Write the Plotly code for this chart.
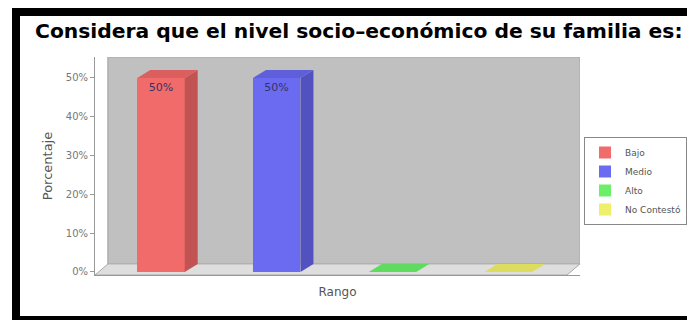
import plotly.graph_objects as go

# data
categories = ["Bajo", "Medio", "Alto", "No Contestó"]
values = [50, 50, 0, 0]
labels = ["50%", "50%", "", ""]
tick_vals = [0, 10, 20, 30, 40, 50]
tick_text = ["0%", "10%", "20%", "30%", "40%", "50%"]
front_colors = ["#f26b6b", "#6b6bf2", "#6bef6b", "#efef6b"]
side_colors = ["#c25353", "#5151c0", "#4fc04f", "#c4c44f"]
top_colors = ["#dc5f5f", "#5f5fdc", "#5fdc5f", "#dcdc5f"]

# page body has an 8px margin, so work in page pixels and shift
OFF = 8
W, H = 695 - OFF, 320 - OFF
L, R, T, B = 95 - OFF, 580 - OFF, 57 - OFF, 275 - OFF
x_range = [-0.57, 3.62]
y_range = [-0.8, 55.4]
px_x = (R - L) / (x_range[1] - x_range[0])
px_y = (B - T) / (y_range[1] - y_range[0])
dx = 13 / px_x   # depth offset in data units
dy = 8 / px_y
bw = 0.41


def paper_x(p):
    return (p - OFF - L) / (R - L)


def paper_y(p):
    return (B - (p - OFF)) / (B - T)


fig = go.Figure()

shapes = []
# floor / side wall light gray, back wall darker gray
shapes.append(dict(type="path", xref="x", yref="y", layer="below",
                   path=(f"M {x_range[0]},{y_range[0]} L {x_range[0] + dx},{dy} "
                         f"L {x_range[0] + dx},{y_range[1]} L {x_range[1]},{y_range[1]} "
                         f"L {x_range[1]},{dy} L {x_range[1] - dx},{y_range[0]} Z"),
                   fillcolor="#dedede", line=dict(color="#a8a8a8", width=1)))
shapes.append(dict(type="rect", xref="x", yref="y", layer="below",
                   x0=x_range[0] + dx, x1=x_range[1], y0=dy, y1=y_range[1],
                   fillcolor="#c0c0c0", line=dict(color="#a8a8a8", width=1)))

for i, v in enumerate(values):
    x0, x1 = i - bw / 2, i + bw / 2
    # side face
    shapes.append(dict(type="path", xref="x", yref="y",
                       path=f"M {x1},0 L {x1},{v} L {x1 + dx},{v + dy} L {x1 + dx},{dy} Z",
                       fillcolor=side_colors[i], line=dict(width=0)))
    # top face
    shapes.append(dict(type="path", xref="x", yref="y",
                       path=f"M {x0},{v} L {x1},{v} L {x1 + dx},{v + dy} L {x0 + dx},{v + dy} Z",
                       fillcolor=top_colors[i], line=dict(width=0)))

    fig.add_trace(go.Bar(
        x=[i], y=[v], width=bw, name=categories[i],
        marker=dict(color=front_colors[i], line=dict(width=0)),
        text=[labels[i]], textposition="inside", insidetextanchor="end",
        textfont=dict(size=11, color="#333366", family="DejaVu Sans"),
        textangle=0, cliponaxis=False,
    ))

# black frame
shapes.append(dict(type="rect", xref="paper", yref="paper", layer="above",
                   x0=paper_x(12), x1=paper_x(20), y0=paper_y(320), y1=paper_y(8),
                   fillcolor="black", line=dict(width=0)))
shapes.append(dict(type="rect", xref="paper", yref="paper", layer="above",
                   x0=paper_x(12), x1=paper_x(695), y0=paper_y(16), y1=paper_y(8),
                   fillcolor="black", line=dict(width=0)))
shapes.append(dict(type="rect", xref="paper", yref="paper", layer="above",
                   x0=paper_x(12), x1=paper_x(695), y0=paper_y(320), y1=paper_y(316),
                   fillcolor="black", line=dict(width=0)))

fig.update_layout(
    width=W, height=H,
    margin=dict(l=L, r=W - R, t=T, b=H - B, autoexpand=False),
    paper_bgcolor="white", plot_bgcolor="rgba(0,0,0,0)",
    title=dict(text="<b>Considera que el nivel socio–económico de su familia es:</b>",
               x=(35 - OFF) / W, xanchor="left", y=1 - (31 - OFF) / H, yanchor="middle",
               font=dict(family="DejaVu Sans", size=20.3, color="black")),
    shapes=shapes,
    showlegend=True,
    legend=dict(x=paper_x(584), y=paper_y(137), xanchor="left", yanchor="top",
                bgcolor="white", bordercolor="#888888", borderwidth=1,
                itemwidth=30,
                font=dict(family="DejaVu Sans", size=9, color="#555555")),
    xaxis=dict(range=x_range, showticklabels=False, showgrid=False, zeroline=False,
               showline=True, linecolor="#999999", ticks="",
               title=dict(text="Rango", font=dict(family="DejaVu Sans", size=12, color="#555555"),
                          standoff=12)),
    yaxis=dict(range=y_range, tickvals=tick_vals, ticktext=tick_text,
               showgrid=False, zeroline=False, showline=True, linecolor="#999999",
               ticks="outside", ticklen=4, tickcolor="#999999",
               tickfont=dict(family="DejaVu Sans", size=10, color="#777777"),
               title=dict(text="Porcentaje", font=dict(family="DejaVu Sans", size=13, color="#555555"),
                          standoff=10)),
    bargap=0,
)

fig.write_html("out.html")
